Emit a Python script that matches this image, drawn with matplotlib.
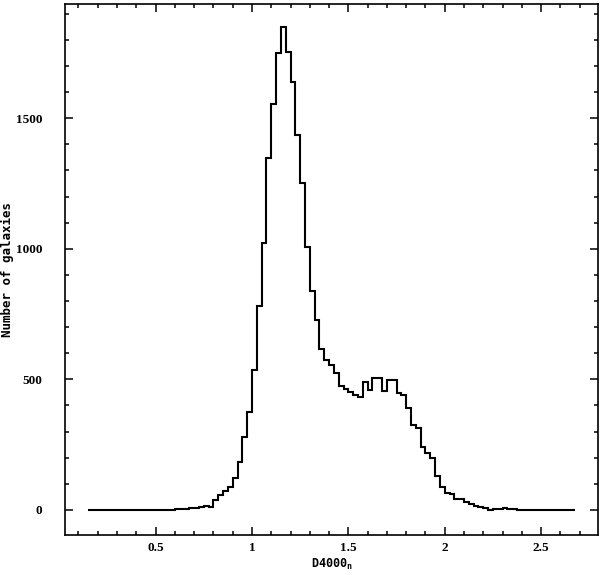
import numpy as np
import matplotlib
matplotlib.use("Agg")
import matplotlib.pyplot as plt
from matplotlib.ticker import MultipleLocator

# Histogram of D4000_n: bin layout and counts
bin_start = 0.15
bin_width = 0.025
counts = [
    0, 0, 0, 0, 0, 0, 0, 0, 0, 0,
    0, 0, 0, 0, 0, 0, 0, 1, 2, 3,
    5, 6, 8, 10, 15, 10, 38, 57, 74, 88,
    122, 185, 281, 376, 536, 782, 1023, 1346, 1553, 1748,
    1848, 1752, 1637, 1436, 1253, 1008, 840, 727, 615, 574,
    555, 523, 475, 462, 453, 440, 434, 488, 460, 504,
    504, 455, 498, 498, 447, 440, 389, 325, 313, 240,
    219, 198, 130, 89, 64, 60, 42, 40, 32, 23,
    16, 13, 6, 1, 2, 3, 6, 5, 2, 0,
    0, 0, 0, 0, 0, 0, 0, 0, 0, 0,
    0,
]
x_ticks = [0.5, 1.0, 1.5, 2.0, 2.5]
x_tick_labels = ["0.5", "1", "1.5", "2", "2.5"]
y_ticks = [0, 500, 1000, 1500]
y_tick_labels = ["0", "500", "1000", "1500"]

plt.rcParams["mathtext.default"] = "regular"

edges = bin_start + bin_width * np.arange(len(counts) + 1)

fig = plt.figure(figsize=(6.0, 5.75), dpi=100)
ax = fig.add_axes([0.1083, 0.0696, 0.8884, 0.9234])

ax.stairs(counts, edges, color="black", linewidth=1.5, baseline=None)

ax.set_xlim(0.03, 2.795)
ax.set_ylim(-96, 1937)

ax.set_xticks(x_ticks)
ax.set_xticklabels(x_tick_labels)
ax.set_yticks(y_ticks)
ax.set_yticklabels(y_tick_labels)
ax.xaxis.set_minor_locator(MultipleLocator(0.1))
ax.yaxis.set_minor_locator(MultipleLocator(100))

ax.tick_params(which="both", direction="in", top=True, right=True, width=1.1)
ax.tick_params(which="major", length=6)
ax.tick_params(which="minor", length=3)
ax.tick_params(axis="y", which="major", pad=16.5)
ax.tick_params(axis="x", which="major", pad=5)
for lab in ax.get_xticklabels() + ax.get_yticklabels():
    lab.set_fontsize(9.5)
    lab.set_fontweight("bold")
    lab.set_family("Liberation Serif")

for sp in ax.spines.values():
    sp.set_linewidth(1.2)

ax.set_xlabel(r"D4000$_n$", fontsize=8.5, fontweight="bold",
              family="DejaVu Sans Mono")
ax.set_ylabel("Number of galaxies", fontsize=9.0, fontweight="bold",
              family="DejaVu Sans Mono")
ax.xaxis.set_label_coords(0.5, -0.041)
ax.yaxis.set_label_coords(-0.096, 0.5)

fig.savefig("out.png", dpi=100)
